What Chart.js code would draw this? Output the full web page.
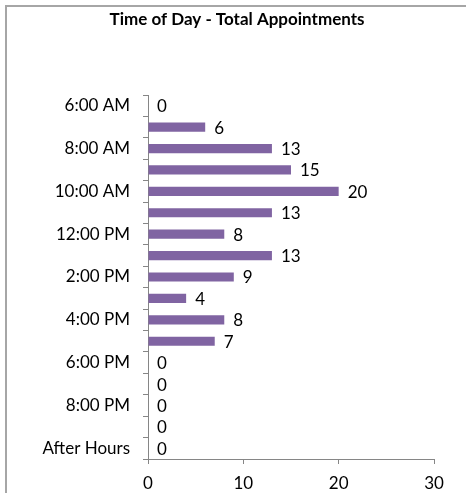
<!DOCTYPE html>
<html>
<head>
<meta charset="utf-8">
<script src="https://cdn.jsdelivr.net/npm/chart.js@4/dist/chart.umd.min.js"></script>
<style>
  body { margin: 0; background: #fff; }
  #wrap { position: relative; width: 466px; height: 493px; overflow: hidden; }
  #frame { position: absolute; left: 5px; top: 5px; width: 500px; height: 520px; border: 2px solid #a6a6a6; }
  canvas { position: absolute; left: 0; top: 0; }
</style>
</head>
<body>
<div id="wrap">
  <div id="frame"></div>
  <canvas id="myChart" width="466" height="493"></canvas>
</div>
<script>
// hours shown on the category axis, top to bottom
var categories = ['6:00 AM', '7:00 AM', '8:00 AM', '9:00 AM', '10:00 AM', '11:00 AM',
  '12:00 PM', '1:00 PM', '2:00 PM', '3:00 PM', '4:00 PM', '5:00 PM',
  '6:00 PM', '7:00 PM', '8:00 PM', '9:00 PM', 'After Hours'];
var appointments = [0, 6, 13, 15, 20, 13, 8, 13, 9, 4, 8, 7, 0, 0, 0, 0, 0];
var xTicks = [0, 10, 20, 30];
var titleText = 'Time of Day - Total Appointments';

var font = 'Lato, "Open Sans", sans-serif';
var axisGray = '#868686';

// value labels to the right of each bar, plus the title centred on the frame
var barLabels = {
  id: 'barLabels',
  afterDatasetsDraw: function(chart) {
    var ctx = chart.ctx;
    var meta = chart.getDatasetMeta(0);
    ctx.save();
    ctx.font = '17px ' + font;
    ctx.fillStyle = '#000';
    ctx.textAlign = 'left';
    ctx.textBaseline = 'middle';
    meta.data.forEach(function(bar, i) {
      ctx.fillText(String(appointments[i]), bar.x + 9, bar.y + 1);
    });
    ctx.font = 'bold 17px ' + font;
    ctx.textAlign = 'center';
    ctx.fillText(titleText, 237, 20);
    ctx.restore();
  }
};

var ctx = document.getElementById('myChart');
var myChart = new Chart(ctx, {
  type: 'bar',
  data: {
    labels: categories,
    datasets: [{
      data: appointments,
      backgroundColor: '#8064a2',
      borderWidth: 0,
      barPercentage: 0.43,
      categoryPercentage: 1
    }]
  },
  options: {
    indexAxis: 'y',
    responsive: false,
    animation: false,
    layout: { padding: { left: 0, right: 32, top: 95, bottom: 0 } },
    plugins: {
      legend: { display: false },
      tooltip: { enabled: false },
      title: { display: false }
    },
    scales: {
      y: {
        offset: true,
        grid: { display: true, drawOnChartArea: false, drawTicks: true, tickLength: 5, color: axisGray, offset: true },
        border: { display: true, color: axisGray },
        ticks: {
          autoSkip: false,
          color: '#000',
          padding: 13,
          font: { family: font, size: 17 },
          callback: function(v, i) { return i % 2 === 0 ? categories[i] : ''; }
        },
        afterFit: function(scale) { scale.width = 148; }
      },
      x: {
        min: xTicks[0],
        max: xTicks[xTicks.length - 1],
        afterBuildTicks: function(scale) { scale.ticks = xTicks.map(function(v) { return { value: v }; }); },
        grid: { display: true, drawOnChartArea: false, drawTicks: true, tickLength: 5, color: axisGray },
        border: { display: true, color: axisGray },
        ticks: { color: '#000', padding: 9, font: { family: font, size: 17 } },
        afterFit: function(scale) { scale.height = 34; }
      }
    }
  },
  plugins: [barLabels]
});
</script>
</body>
</html>
